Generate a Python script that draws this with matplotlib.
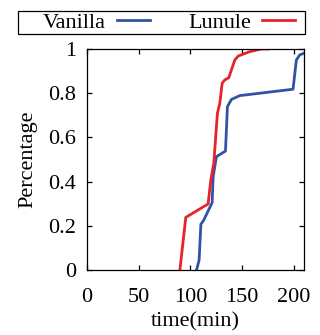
import matplotlib
matplotlib.use('Agg')
import matplotlib.pyplot as plt
from matplotlib.patches import Rectangle
from matplotlib.ticker import FormatStrFormatter

# CDF of completion time
vanilla_t = [106, 108.5, 110.2, 113, 121.1, 122.1, 125.3, 134, 135.9, 139.8, 147.8, 199.4, 202.6, 205.8, 209.5, 212]
vanilla_p = [0, 0.045, 0.207, 0.226, 0.305, 0.423, 0.513, 0.538, 0.739, 0.772, 0.789, 0.818, 0.95, 0.973, 0.98, 0.985]

lunule_t = [89.9, 95.6, 117.2, 119.8, 122.7, 126.2, 128.5, 130.8, 133.3, 137.2, 143, 146.2, 157.5, 168.7, 175]
lunule_p = [0, 0.238, 0.299, 0.407, 0.483, 0.709, 0.754, 0.845, 0.86, 0.87, 0.95, 0.968, 0.988, 1.0, 1.0]

x_ticks = [0, 50, 100, 150, 200]
y_ticks = [0, 0.2, 0.4, 0.6, 0.8, 1]

plt.rcParams['font.family'] = ['Liberation Serif', 'DejaVu Serif']
plt.rcParams['font.size'] = 16

W, H = 320, 335
fig = plt.figure(figsize=(W / 100, H / 100), dpi=100)
ax = fig.add_axes([87 / W, 1 - 270 / H, 217 / W, 221 / H])

ax.plot(vanilla_t, vanilla_p, color='#3352a3', lw=2.0, label='Vanilla')
ax.plot(lunule_t, lunule_p, color='#e8212b', lw=2.0, label='Lunule')

ax.set_xlim(0, 210)
ax.set_ylim(0, 1)
ax.set_xticks(x_ticks)
ax.set_yticks(y_ticks)
ax.yaxis.set_major_formatter(FormatStrFormatter('%g'))
ax.tick_params(direction='in', top=True, right=True, length=3.5, width=0.9)
ax.tick_params(axis='x', pad=13)
ax.tick_params(axis='y', pad=8)
for s in ax.spines.values():
    s.set_linewidth(0.9)

ax.set_xlabel('time(min)', labelpad=4)
ax.set_ylabel('Percentage', labelpad=8)

# legend box spans wider than the axes, text before the line sample
fig.patches.append(Rectangle((18 / W, 1 - 34 / H), 287 / W, 23 / H,
                             transform=fig.transFigure, fill=False,
                             edgecolor='black', lw=0.9))
fig.legend(loc='center', bbox_to_anchor=(169 / W, 1 - 22.5 / H),
           ncol=2, markerfirst=False, frameon=False, borderpad=0,
           handlelength=1.5, handletextpad=0.5, columnspacing=1.7)

fig.savefig('out.png', dpi=100)
